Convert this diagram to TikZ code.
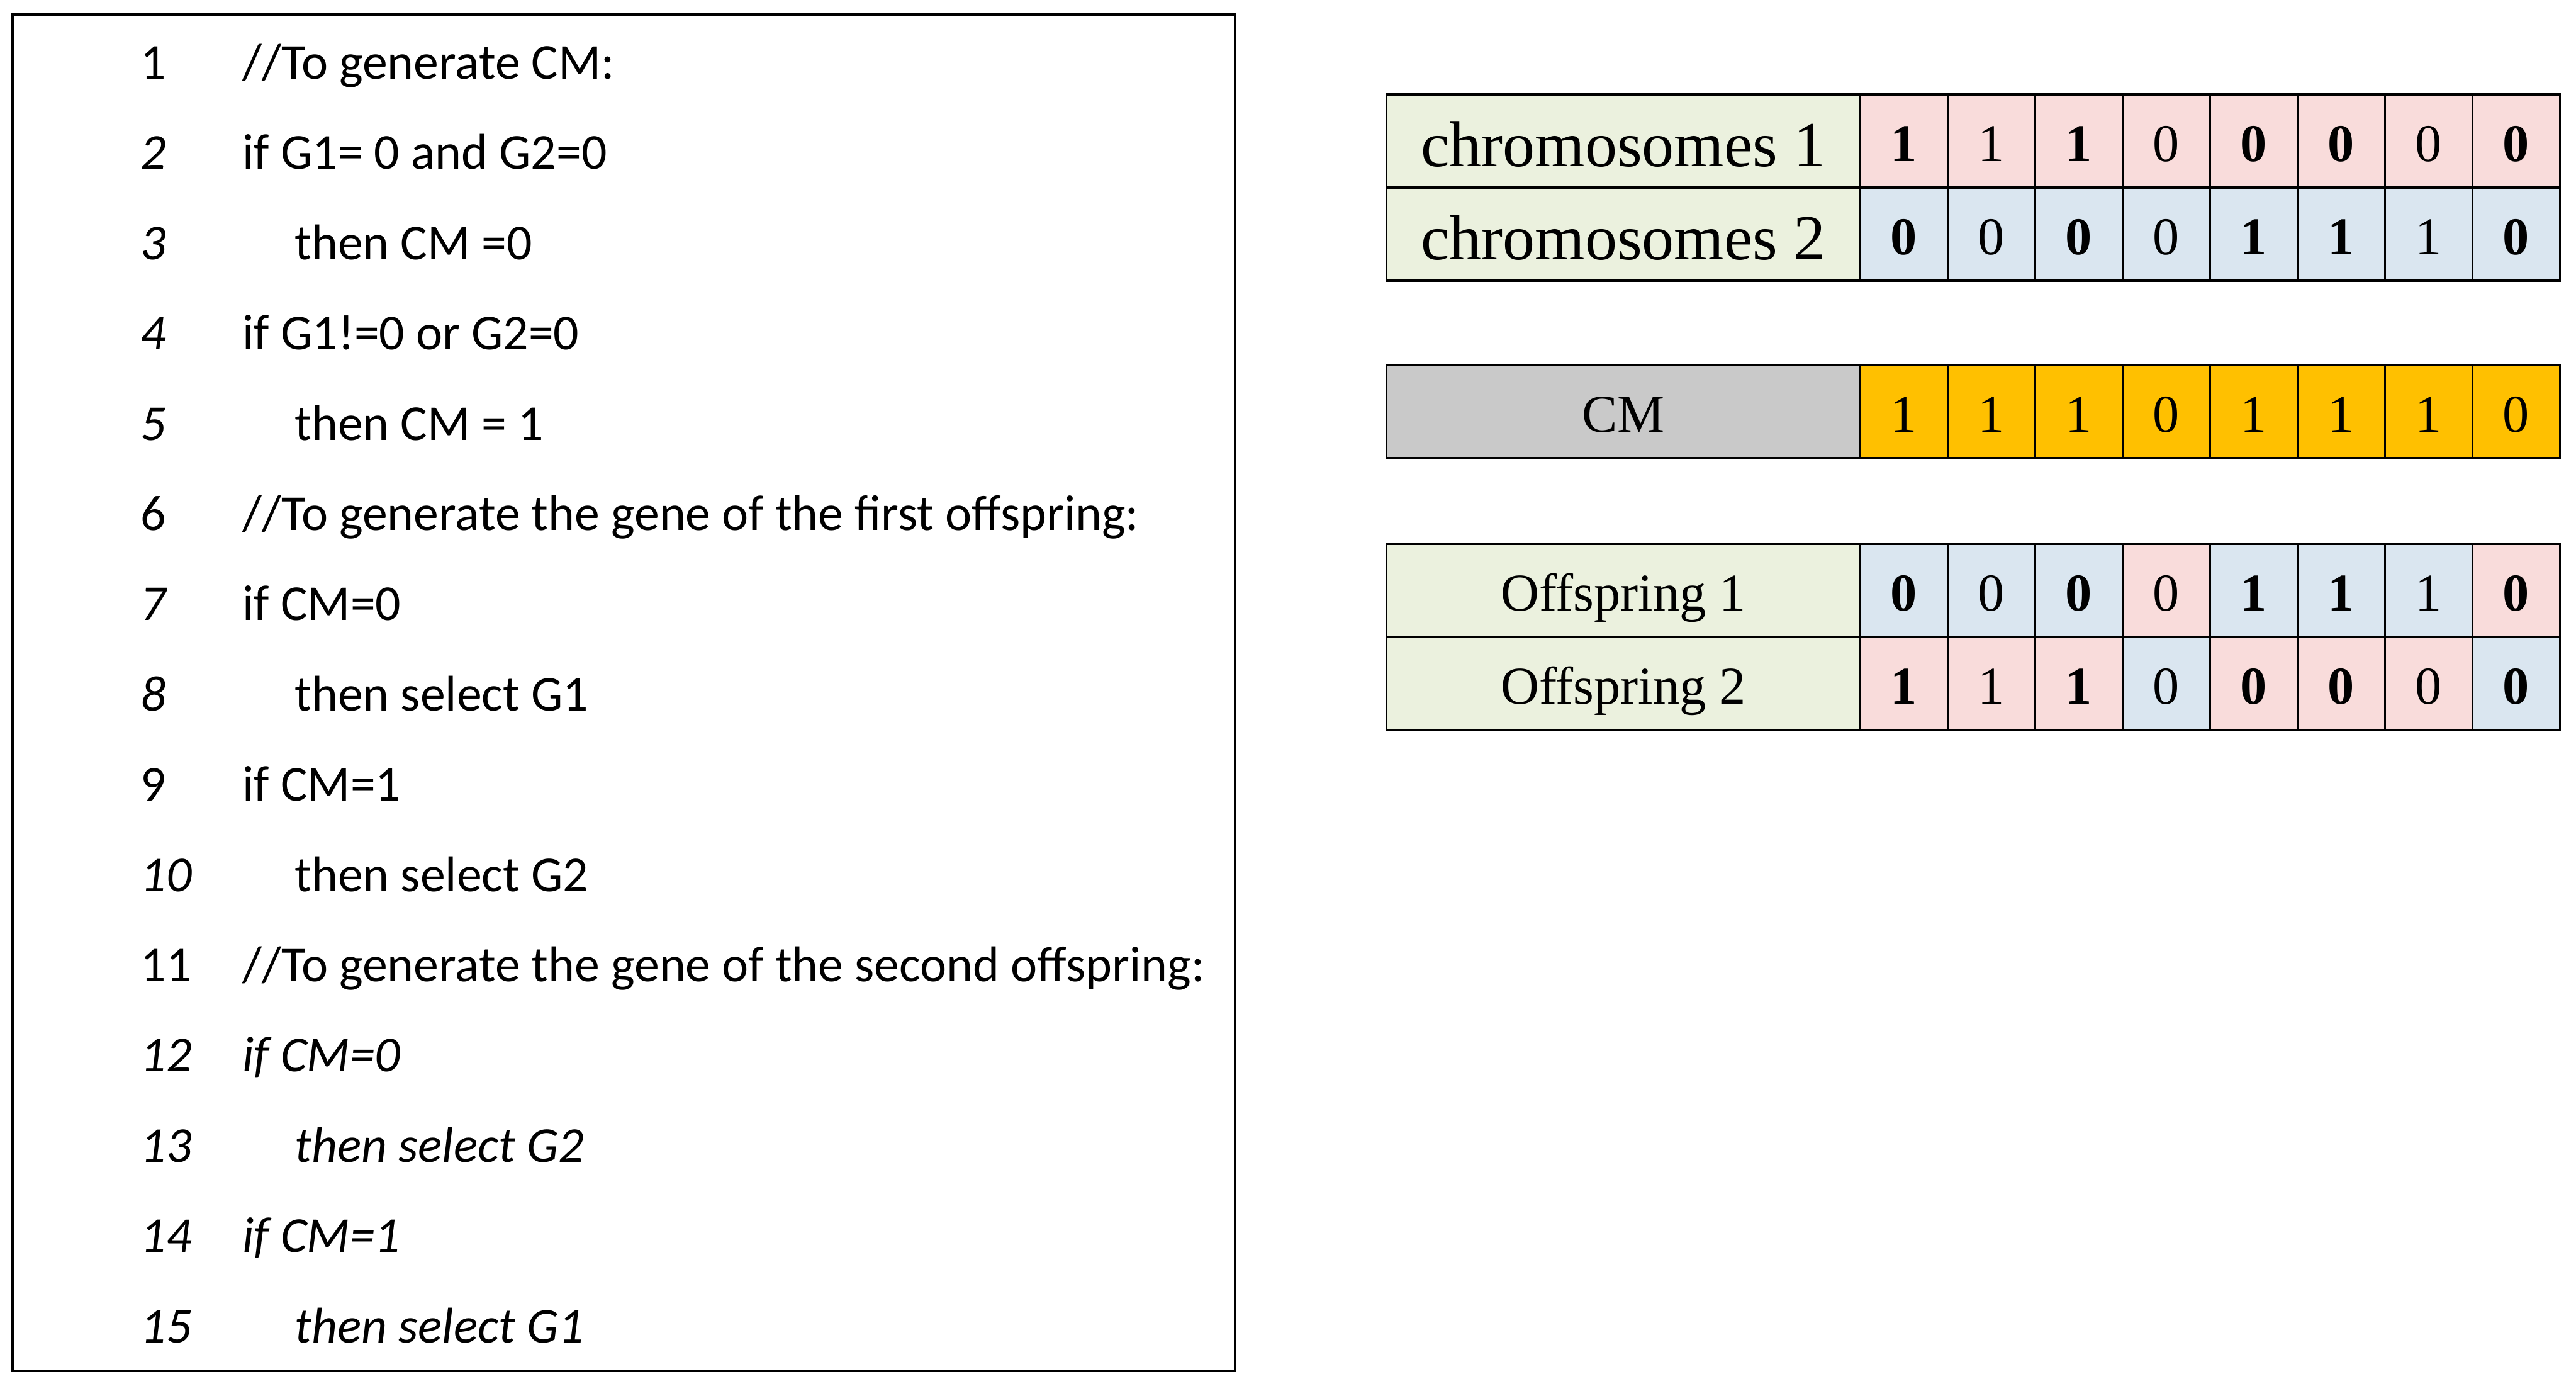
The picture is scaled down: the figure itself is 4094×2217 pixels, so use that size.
\documentclass[tikz,border=0pt]{standalone}
\usepackage{fontspec}
\setmainfont{Liberation Serif}
\newfontfamily\codefont{Carlito}
\definecolor{namegreen}{HTML}{EBF1DE}
\definecolor{genepink}{HTML}{F9DCDB}
\definecolor{geneblue}{HTML}{DAE6F0}
\definecolor{cmgold}{HTML}{FFC000}
\definecolor{cmgray}{HTML}{C9C9C9}
\begin{document}
\begin{tikzpicture}[x=0.01cm, y=-0.01cm, line width=0.9pt,
    codeline/.style={anchor=base west, inner sep=0pt, font=\codefont\fontsize{22.7}{27}\selectfont},
    genecell/.style={draw, minimum width=1.39cm, minimum height=1.48cm, inner sep=0pt, text height=0.64cm, text depth=0pt, font=\fontsize{24}{28}\selectfont},
    namecell/.style={genecell, minimum width=7.53cm, fill=namegreen},
    bignamecell/.style={namecell, text height=0.8cm, font=\fontsize{29}{33}\selectfont},
    pinkcell/.style={genecell, fill=genepink},
    bluecell/.style={genecell, fill=geneblue},
    cmcell/.style={genecell, fill=cmgold}]

    \useasboundingbox (0,0) rectangle (4094,2217);

    % pseudo code
    \draw (20,23) rectangle (1963,2178);
    \node[codeline] at (222,125) (n1) {1};
    \node[codeline] at (384,125) (t1) {//To generate CM:};
    \node[codeline] at (222,268) (n2) {\itshape 2};
    \node[codeline] at (384,268) (t2) {if G1= 0 and G2=0};
    \node[codeline] at (222,412) (n3) {\itshape 3};
    \node[codeline] at (467,412) (t3) {then CM =0};
    \node[codeline] at (222,555) (n4) {\itshape 4};
    \node[codeline] at (384,555) (t4) {if G1!=0 or G2=0};
    \node[codeline] at (222,699) (n5) {\itshape 5};
    \node[codeline] at (467,699) (t5) {then CM = 1};
    \node[codeline] at (222,842) (n6) {6};
    \node[codeline] at (384,842) (t6) {//To generate the gene of the first offspring:};
    \node[codeline] at (222,985) (n7) {\itshape 7};
    \node[codeline] at (384,985) (t7) {if CM=0};
    \node[codeline] at (222,1129) (n8) {\itshape 8};
    \node[codeline] at (467,1129) (t8) {then select G1};
    \node[codeline] at (222,1272) (n9) {9};
    \node[codeline] at (384,1272) (t9) {if CM=1};
    \node[codeline] at (222,1416) (n10) {\itshape 10};
    \node[codeline] at (467,1416) (t10) {then select G2};
    \node[codeline] at (222,1559) (n11) {11};
    \node[codeline] at (384,1559) (t11) {//To generate the gene of the second offspring:};
    \node[codeline] at (222,1702) (n12) {\itshape 12};
    \node[codeline] at (384,1702) (t12) {\itshape if CM=0};
    \node[codeline] at (222,1846) (n13) {\itshape 13};
    \node[codeline] at (467,1846) (t13) {\itshape then select G2};
    \node[codeline] at (222,1989) (n14) {\itshape 14};
    \node[codeline] at (384,1989) (t14) {\itshape if CM=1};
    \node[codeline] at (222,2133) (n15) {\itshape 15};
    \node[codeline] at (467,2133) (t15) {\itshape then select G1};

    % parents
    \node[bignamecell] at (2580,224) (p1) {chromosomes 1};
    \node[pinkcell] at (3026,224) (p1a) {\bfseries 1};
    \node[pinkcell] at (3165,224) (p1b) {1};
    \node[pinkcell] at (3304,224) (p1c) {\bfseries 1};
    \node[pinkcell] at (3443,224) (p1d) {0};
    \node[pinkcell] at (3582,224) (p1e) {\bfseries 0};
    \node[pinkcell] at (3721,224) (p1f) {\bfseries 0};
    \node[pinkcell] at (3860,224) (p1g) {0};
    \node[pinkcell] at (3999,224) (p1h) {\bfseries 0};

    \node[bignamecell] at (2580,372) (p2) {chromosomes 2};
    \node[bluecell] at (3026,372) (p2a) {\bfseries 0};
    \node[bluecell] at (3165,372) (p2b) {0};
    \node[bluecell] at (3304,372) (p2c) {\bfseries 0};
    \node[bluecell] at (3443,372) (p2d) {0};
    \node[bluecell] at (3582,372) (p2e) {\bfseries 1};
    \node[bluecell] at (3721,372) (p2f) {\bfseries 1};
    \node[bluecell] at (3860,372) (p2g) {1};
    \node[bluecell] at (3999,372) (p2h) {\bfseries 0};

    % crossover mask
    \node[namecell, fill=cmgray] at (2580,654) (cm) {CM};
    \node[cmcell] at (3026,654) (cma) {1};
    \node[cmcell] at (3165,654) (cmb) {1};
    \node[cmcell] at (3304,654) (cmc) {1};
    \node[cmcell] at (3443,654) (cmd) {0};
    \node[cmcell] at (3582,654) (cme) {1};
    \node[cmcell] at (3721,654) (cmf) {1};
    \node[cmcell] at (3860,654) (cmg) {1};
    \node[cmcell] at (3999,654) (cmh) {0};

    % offspring
    \node[namecell] at (2580,938) (o1) {Offspring 1};
    \node[bluecell] at (3026,938) (o1a) {\bfseries 0};
    \node[bluecell] at (3165,938) (o1b) {0};
    \node[bluecell] at (3304,938) (o1c) {\bfseries 0};
    \node[pinkcell] at (3443,938) (o1d) {0};
    \node[bluecell] at (3582,938) (o1e) {\bfseries 1};
    \node[bluecell] at (3721,938) (o1f) {\bfseries 1};
    \node[bluecell] at (3860,938) (o1g) {1};
    \node[pinkcell] at (3999,938) (o1h) {\bfseries 0};

    \node[namecell] at (2580,1086) (o2) {Offspring 2};
    \node[pinkcell] at (3026,1086) (o2a) {\bfseries 1};
    \node[pinkcell] at (3165,1086) (o2b) {1};
    \node[pinkcell] at (3304,1086) (o2c) {\bfseries 1};
    \node[bluecell] at (3443,1086) (o2d) {0};
    \node[pinkcell] at (3582,1086) (o2e) {\bfseries 0};
    \node[pinkcell] at (3721,1086) (o2f) {\bfseries 0};
    \node[pinkcell] at (3860,1086) (o2g) {0};
    \node[bluecell] at (3999,1086) (o2h) {\bfseries 0};
\end{tikzpicture}
\end{document}
